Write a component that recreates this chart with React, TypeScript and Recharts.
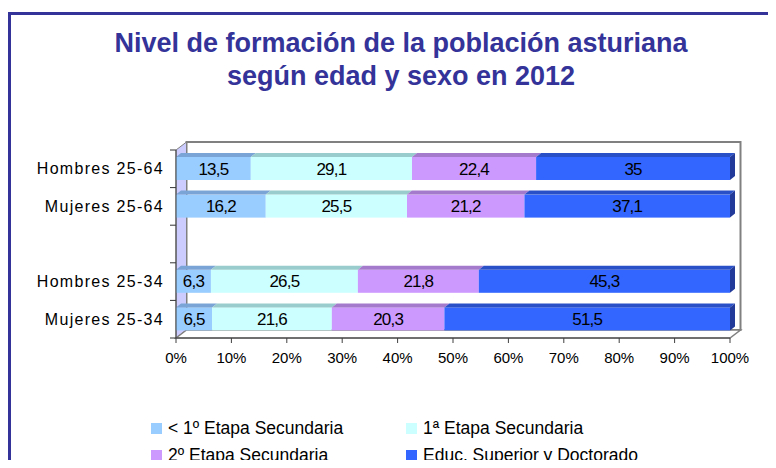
import React from "react"
import { BarChart, Bar, XAxis, YAxis, LabelList, ReferenceArea } from "recharts"

// Nivel de formación (%) por grupo - la fila vacía es el hueco entre grupos de edad
const categories = ["Hombres 25-64", "Mujeres 25-64", "", "Hombres 25-34", "Mujeres 25-34"]
const inferior = [13.5, 16.2, null, 6.3, 6.5]
const primera = [29.1, 25.5, null, 26.5, 21.6]
const segunda = [22.4, 21.2, null, 21.8, 20.3]
const superior = [35, 37.1, null, 45.3, 51.5]
const seriesNames = ["< 1º Etapa Secundaria", "1ª Etapa Secundaria", "2º Etapa Secundaria", "Educ. Superior y Doctorado"]
const xTicks = [0, 0.1, 0.2, 0.3, 0.4, 0.5, 0.6, 0.7, 0.8, 0.9, 1]

const data = categories.map((name, i) => ({
  name,
  inferior: inferior[i],
  primera: primera[i],
  segunda: segunda[i],
  superior: superior[i],
}))

const series = [
  { key: "inferior", front: "#99CCFF", top: "#7AA3D6" },
  { key: "primera", front: "#CCFFFF", top: "#99CCCC" },
  { key: "segunda", front: "#CC99FF", top: "#A37ACC" },
  { key: "superior", front: "#3366FF", top: "#2A50C8", side: "#223A99" },
]

const FONT = "'Liberation Sans', Arial, sans-serif"
const BAR_DX = 5
const BAR_DY = 4
const WALL_DX = 10.5
const WALL_DY = 8

function make3DBar(top: string, side?: string) {
  return (props: any) => {
    const { x, y, width, height, fill } = props
    if (!width || !height) return null
    return (
      <g>
        <rect x={x} y={y} width={width} height={height} fill={fill} />
        <polygon
          points={`${x},${y} ${x + BAR_DX},${y - BAR_DY} ${x + width + BAR_DX},${y - BAR_DY} ${x + width},${y}`}
          fill={top}
        />
        {side && (
          <polygon
            points={`${x + width},${y} ${x + width + BAR_DX},${y - BAR_DY} ${x + width + BAR_DX},${y + height - BAR_DY} ${x + width},${y + height}`}
            fill={side}
          />
        )}
      </g>
    )
  }
}

// paredes del gráfico 3D (fondo, lateral, suelo) y marcas del eje de categorías
function Walls(props: any) {
  const { x, y, width: w, height: h } = props
  const n = categories.length
  return (
    <g>
      <rect x={x + WALL_DX} y={y - WALL_DY} width={w} height={h} fill="#FFFFFF" stroke="#808080" strokeWidth={2} />
      <polygon
        points={`${x},${y} ${x + WALL_DX},${y - WALL_DY} ${x + WALL_DX},${y + h - WALL_DY} ${x},${y + h}`}
        fill="#CCCCFF"
        stroke="#808080"
        strokeWidth={1}
      />
      <polygon
        points={`${x},${y + h} ${x + WALL_DX},${y + h - WALL_DY} ${x + w + WALL_DX},${y + h - WALL_DY} ${x + w},${y + h}`}
        fill="#FFFFFF"
        stroke="#808080"
        strokeWidth={1.5}
      />
      {Array.from({ length: n + 1 }).map((_, i) => (
        <line key={i} x1={x - 6} x2={x} y1={y + (i * h) / n} y2={y + (i * h) / n} stroke="#333333" />
      ))}
    </g>
  )
}

const fmt = (v: any) => (v == null ? "" : String(v).replace(".", ","))

export default function App() {
  return (
    <div style={{ position: "relative", width: 776, height: 468, margin: -8, overflow: "hidden", background: "#fff", fontFamily: FONT }}>
      <div
        style={{
          position: "absolute",
          left: 8,
          top: 12,
          width: 800,
          height: 500,
          borderLeft: "3px solid #333399",
          borderTop: "3px solid #333399",
        }}
      />
      <div
        style={{
          position: "absolute",
          left: 26,
          top: 27,
          width: 750,
          textAlign: "center",
          color: "#333399",
          fontWeight: "bold",
          fontSize: 27,
          lineHeight: "32.5px",
        }}
      >
        <div>Nivel de formación de la población asturiana</div>
        <div>según edad y sexo en 2012</div>
      </div>

      <div style={{ position: "absolute", left: 0, top: 0 }}>
        <BarChart
          width={776}
          height={468}
          data={data}
          layout="vertical"
          stackOffset="expand"
          barSize={23}
          margin={{ top: 150, right: 46, bottom: 100, left: 0 }}
        >
          <ReferenceArea x1={0} x2={1} ifOverflow="visible" shape={Walls} />
          <XAxis
            type="number"
            domain={[0, 1]}
            ticks={xTicks}
            tickFormatter={(v: number) => `${Math.round(v * 100)}%`}
            height={30}
            tickSize={5}
            tickMargin={9}
            axisLine={{ stroke: "#404040" }}
            tickLine={{ stroke: "#404040" }}
            tick={{ fontSize: 15, fill: "#000", fontFamily: FONT }}
          />
          <YAxis
            type="category"
            dataKey="name"
            width={176}
            tickLine={false}
            tickMargin={6}
            axisLine={{ stroke: "#404040" }}
            tick={{ fontSize: 16, fill: "#000", fontFamily: FONT, letterSpacing: 1.3 }}
          />
          {series.map((s) => (
            <Bar
              key={s.key}
              dataKey={s.key}
              stackId="a"
              fill={s.front}
              isAnimationActive={false}
              shape={make3DBar(s.top, s.side)}
            >
              <LabelList
                dataKey={s.key}
                position="center"
                formatter={fmt}
                fill="#000"
                style={{ fontSize: 17, fontFamily: FONT, letterSpacing: -0.8 }}
              />
            </Bar>
          ))}
        </BarChart>
      </div>

      {seriesNames.map((name, i) => (
        <div
          key={name}
          style={{
            position: "absolute",
            left: i % 2 === 0 ? 151 : 406,
            top: i < 2 ? 418 : 445,
            height: 20,
            display: "flex",
            alignItems: "center",
            fontSize: 17.5,
            color: "#000",
            whiteSpace: "nowrap",
          }}
        >
          <span style={{ display: "inline-block", width: 11, height: 11, background: series[i].front, marginRight: 6 }} />
          {name}
        </div>
      ))}
    </div>
  )
}
